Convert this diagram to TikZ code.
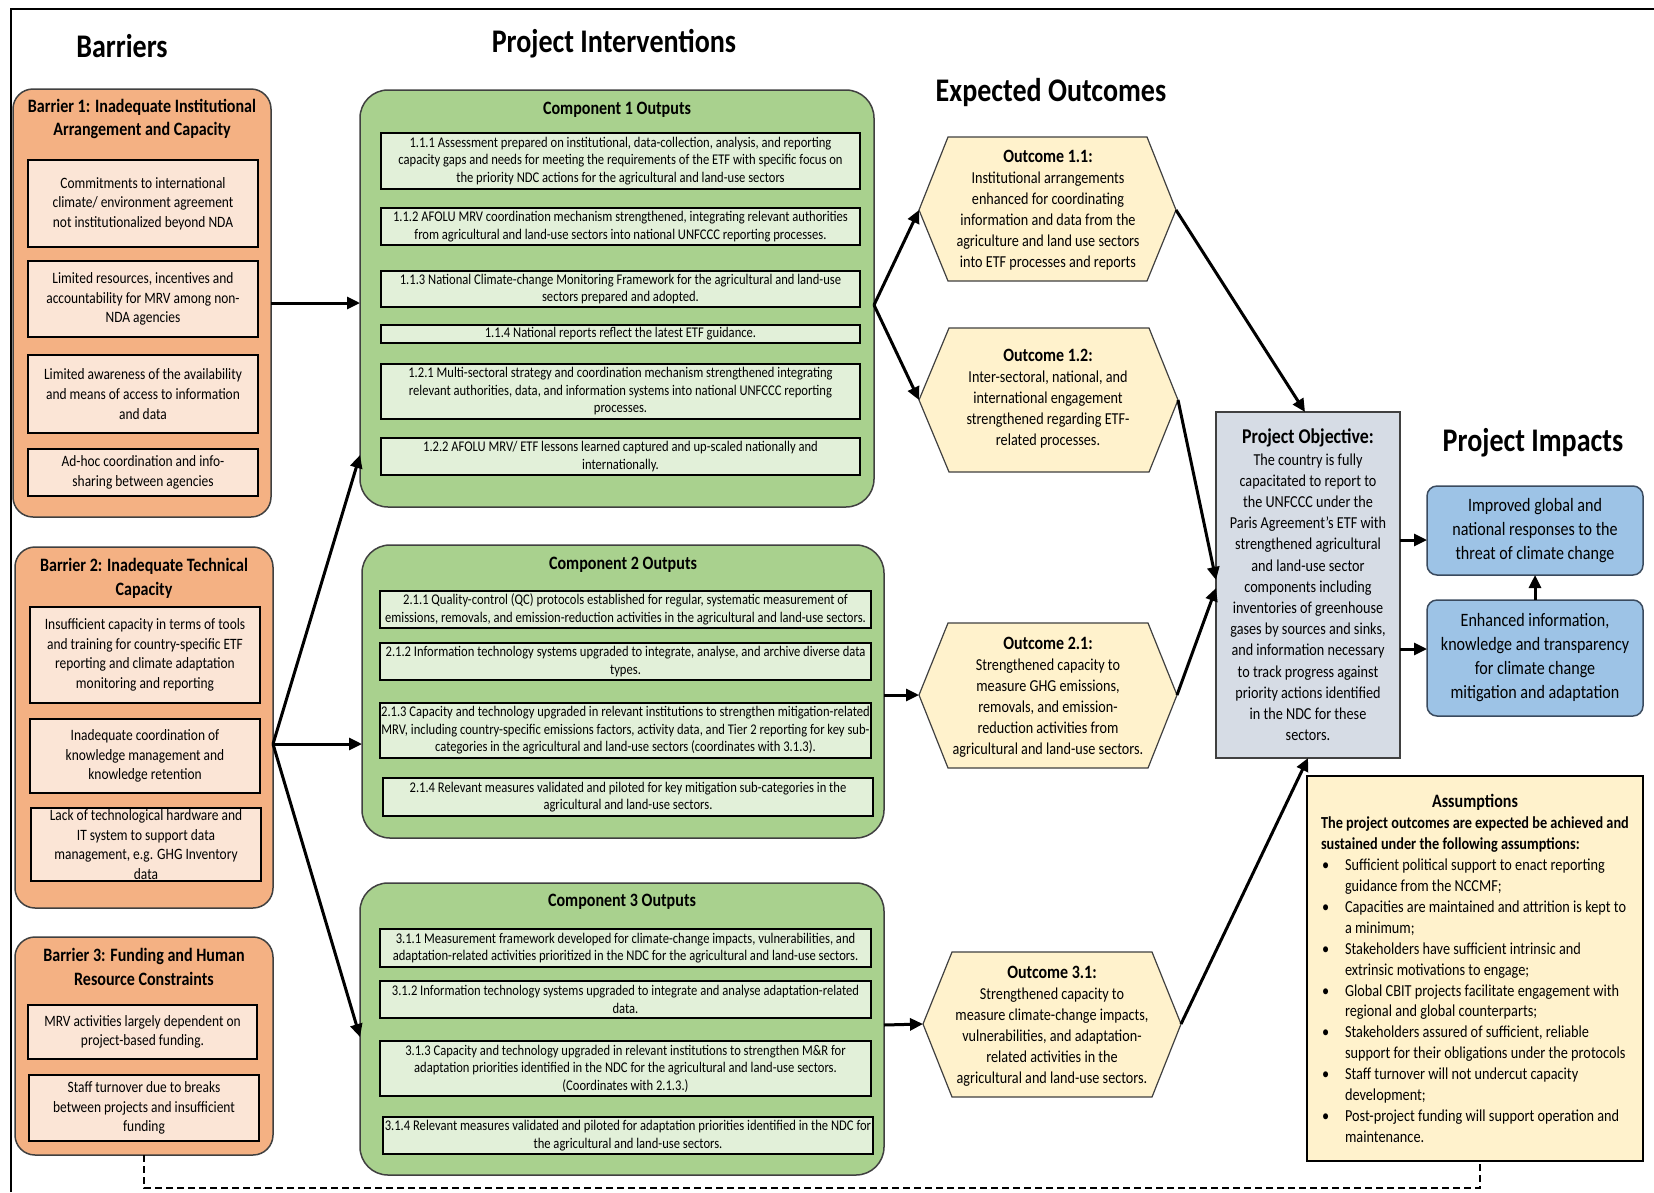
\documentclass[tikz,border=0pt]{standalone}
\usepackage{fontspec}
\setmainfont{Carlito}[FakeStretch=0.85]
\usetikzlibrary{arrows.meta}
\definecolor{barfill}{HTML}{F4B183}
\definecolor{baritem}{HTML}{FBE5D6}
\definecolor{compfill}{HTML}{A9D18E}
\definecolor{compitem}{HTML}{E2F0D9}
\definecolor{hexfill}{HTML}{FFF2CC}
\definecolor{objfill}{HTML}{D6DCE5}
\definecolor{impfill}{HTML}{9DC3E6}
\definecolor{edgegray}{HTML}{404040}
\definecolor{impedge}{HTML}{3A4A5E}
\newcommand{\fsz}[2]{\fontsize{#1}{#2}\selectfont}
\newcommand{\asbul}{\makebox[24pt][l]{\hspace{1pt}\textbullet}}
\newcommand{\ascont}{\hspace*{24pt}}
\begin{document}
\begin{tikzpicture}[x=1pt,y=-1pt,
  every node/.style={inner sep=0pt,outer sep=0pt},
  sect/.style={font=\fsz{33}{38}\bfseries},
  bcont/.style={draw=edgegray,line width=1.5pt,fill=barfill,rounded corners=20pt},
  btitle/.style={align=center,font=\fsz{18.9}{23.7}\bfseries},
  bitem/.style={draw=black,line width=1.2pt,fill=baritem,align=center,font=\fsz{15.8}{19.6}},
  ccont/.style={draw=edgegray,line width=1.5pt,fill=compfill,rounded corners=28pt},
  ctitle/.style={font=\fsz{18.9}{22}\bfseries},
  citem/.style={draw=black,line width=1.2pt,fill=compitem,align=center,font=\fsz{14.8}{17.5}},
  hexa/.style={draw=edgegray,line width=1.2pt,fill=hexfill},
  otext/.style={align=center,font=\fsz{16.7}{21}},
  objbox/.style={draw=edgegray,line width=1.5pt,fill=objfill,align=center,font=\fsz{16.7}{21.2}},
  impbox/.style={draw=impedge,line width=1.5pt,fill=impfill,rounded corners=10pt,align=center,font=\fsz{18.9}{24}},
  asbox/.style={draw=black,line width=1.5pt,fill=hexfill},
  arr/.style={line width=3pt,-{Triangle[length=13pt,width=12pt]}},
  dashline/.style={line width=2.2pt,dash pattern=on 7pt off 4pt}
]
\useasboundingbox (0,0) rectangle (1654,1192);
\fill[white] (0,0) rectangle (1654,1192);
\draw[line width=1.5pt] (11,1192) -- (11,9) -- (1654,9);

% section titles
\node[sect] (tbar) at (122,46) {Barriers};
\node[sect] (tint) at (614,44) {Project Interventions};
\node[sect] (tout) at (1051,93) {Expected Outcomes};
\node[sect] (timp) at (1533,443) {Project Impacts};

% Barrier 1
\node[bcont,minimum width=258,minimum height=428] (b1) at (142,303) {};
\node[btitle] (b1t) at (142,119) {Barrier 1: Inadequate Institutional\\Arrangement and Capacity};
\node[bitem,minimum width=230,minimum height=87] (b1i1) at (143,203.5) {Commitments to international\\climate/ environment agreement\\not institutionalized beyond NDA};
\node[bitem,minimum width=230,minimum height=76] (b1i2) at (143,299) {Limited resources, incentives and\\accountability for MRV among non-\\NDA agencies};
\node[bitem,minimum width=230,minimum height=78] (b1i3) at (143,394) {Limited awareness of the availability\\and means of access to information\\and data};
\node[bitem,minimum width=230,minimum height=47] (b1i4) at (143,472.5) {Ad-hoc coordination and info-\\sharing between agencies};

% Barrier 2
\node[bcont,minimum width=258,minimum height=361] (b2) at (144,727.5) {};
\node[btitle] (b2t) at (144,578) {Barrier 2: Inadequate Technical\\Capacity};
\node[bitem,minimum width=230,minimum height=96] (b2i1) at (145,655) {Insufficient capacity in terms of tools\\and training for country-specific ETF\\reporting and climate adaptation\\monitoring and reporting};
\node[bitem,minimum width=230,minimum height=74] (b2i2) at (145,756) {Inadequate coordination of\\knowledge management and\\knowledge retention};
\node[bitem,minimum width=230,minimum height=73] (b2i3) at (146,844.5) {Lack of technological hardware and\\IT system to support data\\management, e.g. GHG Inventory\\data};

% Barrier 3
\node[bcont,minimum width=258,minimum height=218] (b3) at (144,1046) {};
\node[btitle] (b3t) at (144,967) {Barrier 3: Funding and Human\\Resource Constraints};
\node[bitem,minimum width=229,minimum height=54] (b3i1) at (142.5,1032) {MRV activities largely dependent on\\project-based funding.};
\node[bitem,minimum width=230,minimum height=66] (b3i2) at (144,1108) {Staff turnover due to breaks\\between projects and insufficient\\funding};

% Component 1
\node[ccont,minimum width=514,minimum height=417] (c1) at (617,298.5) {};
\node[ctitle] (c1t) at (617,110) {Component 1 Outputs};
\node[citem,minimum width=479,minimum height=56] (c111) at (620.5,161) {1.1.1 Assessment prepared on institutional, data-collection, analysis, and reporting\\capacity gaps and needs for meeting the requirements of the ETF with specific focus on\\the priority NDC actions for the agricultural and land-use sectors};
\node[citem,minimum width=479,minimum height=37] (c112) at (620.5,226.5) {1.1.2 AFOLU MRV coordination mechanism strengthened, integrating relevant authorities\\from agricultural and land-use sectors into national UNFCCC reporting processes.};
\node[citem,minimum width=479,minimum height=36] (c113) at (620.5,289) {1.1.3 National Climate-change Monitoring Framework for the agricultural and land-use\\sectors prepared and adopted.};
\node[citem,minimum width=479,minimum height=18] (c114) at (620.5,334) {1.1.4 National reports reflect the latest ETF guidance.};
\node[citem,minimum width=479,minimum height=55] (c121) at (620.5,391.5) {1.2.1 Multi-sectoral strategy and coordination mechanism strengthened integrating\\relevant authorities, data, and information systems into national UNFCCC reporting\\processes.};
\node[citem,minimum width=479,minimum height=37] (c122) at (620.5,456.5) {1.2.2 AFOLU MRV/ ETF lessons learned captured and up-scaled nationally and\\internationally.};

% Component 2
\node[ccont,minimum width=522,minimum height=293] (c2) at (623,691.5) {};
\node[ctitle] (c2t) at (623,565) {Component 2 Outputs};
\node[citem,minimum width=491,minimum height=37] (c211) at (625.5,609.5) {2.1.1 Quality-control (QC) protocols established for regular, systematic measurement of\\emissions, removals, and emission-reduction activities in the agricultural and land-use sectors.};
\node[citem,minimum width=491,minimum height=37] (c212) at (625.5,661.5) {2.1.2 Information technology systems upgraded to integrate, analyse, and archive diverse data\\types.};
\node[citem,minimum width=491,minimum height=55] (c213) at (625.5,730.5) {2.1.3 Capacity and technology upgraded in relevant institutions to strengthen mitigation-related\\MRV, including country-specific emissions factors, activity data, and Tier 2 reporting for key sub-\\categories in the agricultural and land-use sectors (coordinates with 3.1.3).};
\node[citem,minimum width=490,minimum height=38] (c214) at (628,797) {2.1.4 Relevant measures validated and piloted for key mitigation sub-categories in the\\agricultural and land-use sectors.};

% Component 3
\node[ccont,minimum width=524,minimum height=292] (c3) at (622,1029) {};
\node[ctitle] (c3t) at (622,902) {Component 3 Outputs};
\node[citem,minimum width=491,minimum height=38] (c311) at (625.5,948) {3.1.1 Measurement framework developed for climate-change impacts, vulnerabilities, and\\adaptation-related activities prioritized in the NDC for the agricultural and land-use sectors.};
\node[citem,minimum width=491,minimum height=37] (c312) at (625.5,999.5) {3.1.2 Information technology systems upgraded to integrate and analyse adaptation-related\\data.};
\node[citem,minimum width=491,minimum height=55] (c313) at (625.5,1068.5) {3.1.3 Capacity and technology upgraded in relevant institutions to strengthen M\&R for\\adaptation priorities identified in the NDC for the agricultural and land-use sectors.\\(Coordinates with 2.1.3.)};
\node[citem,minimum width=490,minimum height=37] (c314) at (628,1135.5) {3.1.4 Relevant measures validated and piloted for adaptation priorities identified in the NDC for\\the agricultural and land-use sectors.};

% Outcomes (hexagons)
\draw[hexa] (948,137) -- (1147,137) -- (1176,210) -- (1147,281) -- (948,281) -- (919,210) -- cycle;
\coordinate (o11L) at (919,210); \coordinate (o11R) at (1176,210);
\node[otext] (o11) at (1048,210) {{\fsz{18.8}{21}\bfseries Outcome 1.1:}\\Institutional arrangements\\enhanced for coordinating\\information and data from the\\agriculture and land use sectors\\into ETF processes and reports};

\draw[hexa] (949,328) -- (1149,328) -- (1178,400) -- (1149,472) -- (949,472) -- (919,400) -- cycle;
\coordinate (o12L) at (919,400); \coordinate (o12R) at (1178,400);
\node[otext] (o12) at (1048,399) {{\fsz{18.8}{21}\bfseries Outcome 1.2:}\\Inter-sectoral, national, and\\international engagement\\strengthened regarding ETF-\\related processes.};

\draw[hexa] (948,623) -- (1148,623) -- (1177,695) -- (1148,768) -- (948,768) -- (919,695) -- cycle;
\coordinate (o21L) at (919,695); \coordinate (o21R) at (1177,695);
\node[otext] (o21) at (1048,697) {{\fsz{18.8}{21}\bfseries Outcome 2.1:}\\Strengthened capacity to\\measure GHG emissions,\\removals, and emission-\\reduction activities from\\agricultural and land-use sectors.};

\draw[hexa] (952,952) -- (1152,952) -- (1181,1024) -- (1152,1097) -- (952,1097) -- (923,1024) -- cycle;
\coordinate (o31L) at (923,1024); \coordinate (o31R) at (1181,1024);
\node[otext] (o31) at (1052,1026) {{\fsz{18.8}{21}\bfseries Outcome 3.1:}\\Strengthened capacity to\\measure climate-change impacts,\\vulnerabilities, and adaptation-\\related activities in the\\agricultural and land-use sectors.};

% Objective
\node[objbox,minimum width=184,minimum height=346] (obj) at (1308,585) {{\fsz{21}{24}\bfseries Project Objective:}\\The country is fully\\capacitated to report to\\the UNFCCC under the\\Paris Agreement’s ETF with\\strengthened agricultural\\and land-use sector\\components including\\inventories of greenhouse\\gases by sources and sinks,\\and information necessary\\to track progress against\\priority actions identified\\in the NDC for these\\sectors.};

% Impacts
\node[impbox,minimum width=216,minimum height=89] (imp1) at (1535,530.5) {Improved global and\\national responses to the\\threat of climate change};
\node[impbox,minimum width=216,minimum height=116] (imp2) at (1535,658) {Enhanced information,\\knowledge and transparency\\for climate change\\mitigation and adaptation};

% Assumptions
\node[asbox,minimum width=336,minimum height=385] (assump) at (1475,968.5) {};
\node[font=\fsz{18.9}{22}\bfseries] (asshead) at (1475,802) {Assumptions};
\node[anchor=north west,align=left,font=\fsz{16.8}{20.9}] (asstext) at (1321,817) {%
\textbf{The project outcomes are expected be achieved and}\\
\textbf{sustained under the following assumptions:}\\
\asbul Sufficient political support to enact reporting\\
\ascont guidance from the NCCMF;\\
\asbul Capacities are maintained and attrition is kept to\\
\ascont a minimum;\\
\asbul Stakeholders have sufficient intrinsic and\\
\ascont extrinsic motivations to engage;\\
\asbul Global CBIT projects facilitate engagement with\\
\ascont regional and global counterparts;\\
\asbul Stakeholders assured of sufficient, reliable\\
\ascont support for their obligations under the protocols\\
\asbul Staff turnover will not undercut capacity\\
\ascont development;\\
\asbul Post-project funding will support operation and\\
\ascont maintenance.};

% Connectors
\draw[arr] (b1.east) -- (b1.east -| c1.west);
\coordinate (b2o) at ([yshift=-16.5pt]b2.east);
\draw[arr] (b2o) -- ([yshift=-156.5pt]c1.west);
\draw[arr] (b2o) -- (b2o -| c2.west);
\draw[arr] (b2o) -- ([yshift=-8pt]c3.west);
\coordinate (c1o) at ([yshift=-6.5pt]c1.east);
\draw[arr] (c1o) -- (o11L);
\draw[arr] (c1o) -- (o12L);
\draw[arr] ([yshift=-3.5pt]c2.east) -- (o21L);
\draw[arr] ([yshift=4pt]c3.east) -- (o31L);
\draw[arr] (o11R) -- ([xshift=-3pt]obj.north);
\draw[arr] (o12R) -- ([yshift=5pt]obj.west);
\draw[arr] (o21R) -- ([yshift=-3pt]obj.west);
\draw[arr] (o31R) -- (obj.south);
\coordinate (i1a) at ([yshift=-9.5pt]imp1.west);
\coordinate (i2a) at ([yshift=9pt]imp2.west);
\draw[arr] (i1a -| obj.east) -- (i1a);
\draw[arr] (i2a -| obj.east) -- (i2a);
\draw[arr] (imp2.north) -- (imp1.south);
\draw[dashline] (b3.south) -- ++(0,33) -| ([xshift=5pt]assump.south);
\end{tikzpicture}
\end{document}
